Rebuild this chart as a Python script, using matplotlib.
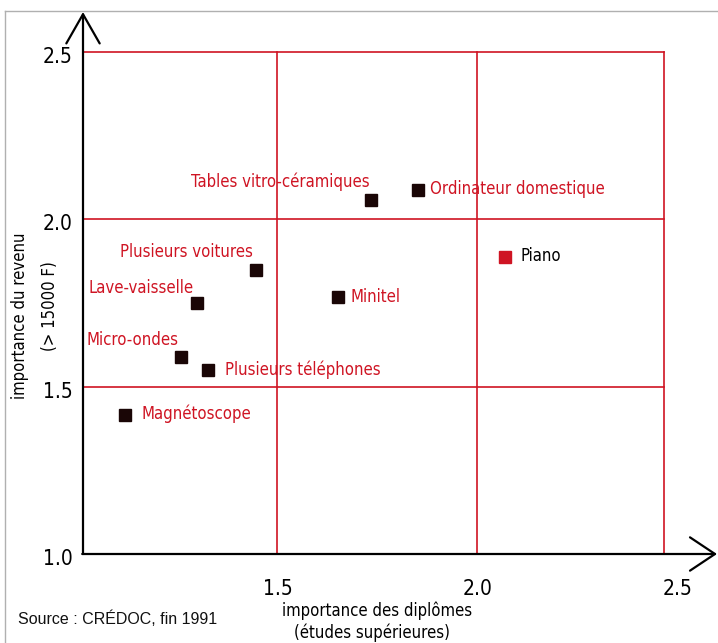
import matplotlib
matplotlib.use("Agg")
import matplotlib.pyplot as plt
from matplotlib import font_manager as fm

# ---------------- data ----------------
products = ["Tables vitro-céramiques", "Ordinateur domestique", "Piano",
            "Plusieurs voitures", "Minitel", "Lave-vaisselle", "Micro-ondes",
            "Plusieurs téléphones", "Magnétoscope"]
diplomes = [1.735, 1.853, 2.070, 1.448, 1.652, 1.299, 1.259, 1.328, 1.120]
revenu = [2.058, 2.088, 1.887, 1.849, 1.769, 1.749, 1.590, 1.550, 1.415]
x_ticks = [1.5, 2.0, 2.5]
y_ticks = [1.0, 1.5, 2.0, 2.5]
x_label = ["importance des diplômes", "(études supérieures)"]
y_label = ["importance du revenu", "(> 15000 F)"]
source = "Source : CRÉDOC, fin 1991"

# ---------------- font choice ----------------
names = {(f.name, f.stretch) for f in fm.fontManager.ttflist}
cond = dict(family="DejaVu Sans")
k = 0.85
if any(n == "Liberation Sans Narrow" for n, s in names):
    cond = dict(family="Liberation Sans Narrow")
    k = 1.17
elif any(n == "DejaVu Sans" and s in ("condensed", "semi-condensed") for n, s in names):
    cond = dict(family="DejaVu Sans", fontstretch="condensed")
    k = 1.0

RED = "#cf1423"
DARK = "#1a0606"

W, H = 718, 643
fig = plt.figure(figsize=(W / 100, H / 100), dpi=100)
ax = fig.add_axes([0, 0, 1, 1])
# pixel mapping: x=1.0 at px 77, 400 px/unit ; y=1.0 at py 554, 334.67 px/unit
xpu, ypu = 400.0, 334.67
ax.set_xlim(1.0 - 77 / xpu, 1.0 + (W - 77) / xpu)
ax.set_ylim(1.0 - (H - 554) / ypu, 2.5 + 52 / ypu)
ax.axis("off")

def px(p):
    return 1.0 + (p - 77) / xpu

def py(p):
    return 1.0 + (554 - p) / ypu

x0 = px(83)          # vertical axis position
xr = px(664)         # right red border
ytop = py(12)        # arrow tip y
xtip = px(717)       # arrow tip x

# light outer frame
ax.plot([px(5), px(W)], [py(11)] * 2, color="#b0b0b0", lw=1.0)
ax.plot([px(5)] * 2, [py(11), py(H)], color="#b0b0b0", lw=1.0)

# red grid
for yy in [1.5, 2.0, 2.5]:
    ax.plot([x0, xr], [yy, yy], color=RED, lw=1.2, zorder=1)
for xx in [1.5, 2.0, xr]:
    ax.plot([xx, xx], [1.0, 2.5], color=RED, lw=1.2, zorder=1)

# black axes with open arrows
ax.annotate("", xy=(x0, ytop), xytext=(x0, 1.0),
            arrowprops=dict(arrowstyle="->,head_length=2.1,head_width=1.2", color="black", lw=1.6,
                            shrinkA=0, shrinkB=0), zorder=3)
ax.annotate("", xy=(xtip, 1.0), xytext=(x0 - 0.002, 1.0),
            arrowprops=dict(arrowstyle="->,head_length=1.8,head_width=1.2", color="black", lw=1.6,
                            shrinkA=0, shrinkB=0), zorder=3)

# tick labels
for t in y_ticks:
    ax.text(x0 - 10 / xpu, t - 5 / ypu, f"{t:.1f}", ha="right", va="center",
            fontsize=15 * k, color="black", **cond)
for t in x_ticks:
    ax.text(t + 1 / xpu, py(589), f"{t:.1f}", ha="center", va="center",
            fontsize=15 * k, color="black", **cond)

# axis titles
ax.text(px(377), py(611), x_label[0], ha="center", va="center",
        fontsize=12 * k, color="black", **cond)
ax.text(px(372), py(633), x_label[1], ha="center", va="center",
        fontsize=12 * k, color="black", **cond)
ax.text(px(20), py(316), y_label[0], ha="center", va="center",
        rotation=90, fontsize=12 * k, color="black", **cond)
ax.text(px(50), py(306), y_label[1], ha="center", va="center",
        rotation=90, fontsize=12 * k, color="black", **cond)

# source
ax.text(px(18), py(619), source, ha="left", va="center",
        fontsize=11.5, family="Liberation Sans", color="#111111")

# markers
mcolors = [RED if p == "Piano" else DARK for p in products]
for xv, yv, c in zip(diplomes, revenu, mcolors):
    ax.plot(xv, yv, marker="s", ms=8.5, color=c, mec=c, ls="none", zorder=4)

# labels (pixel offsets, alignment)
offsets = {
    "Tables vitro-céramiques": (-1, 18, "right"),
    "Ordinateur domestique": (12, 1, "left"),
    "Piano": (16, 1, "left"),
    "Plusieurs voitures": (-3, 18, "right"),
    "Minitel": (13, 0, "left"),
    "Lave-vaisselle": (-3, 15, "right"),
    "Micro-ondes": (-2, 17, "right"),
    "Plusieurs téléphones": (17, 0, "left"),
    "Magnétoscope": (16, 1, "left"),
}
for p, xv, yv in zip(products, diplomes, revenu):
    dx, dy, ha = offsets[p]
    col = "black" if p == "Piano" else RED
    ax.annotate(p, (xv, yv), xytext=(dx * 0.72, dy * 0.72), textcoords="offset points",
                ha=ha, va="center", fontsize=12 * k, color=col, zorder=5, **cond)

fig.savefig("out.png", dpi=100)
